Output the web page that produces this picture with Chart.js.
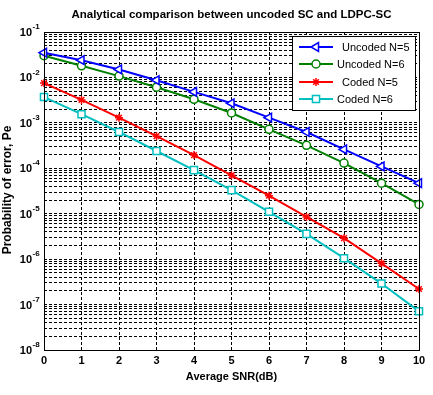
<!DOCTYPE html>
<html>
<head>
<meta charset="utf-8">
<script src="https://cdn.jsdelivr.net/npm/chart.js@4.4.0/dist/chart.umd.min.js"></script>
<style>
  html, body { margin: 0; padding: 0; background: #fff; }
</style>
</head>
<body>
<canvas id="c" width="433" height="395"></canvas>
<script>
// data
const snr = [0, 1, 2, 3, 4, 5, 6, 7, 8, 9, 10];
const uncodedN5 = [3.5e-2, 2.4e-2, 1.5e-2, 8.7e-3, 4.8e-3, 2.7e-3, 1.3e-3, 6.3e-4, 2.6e-4, 1.1e-4, 4.7e-5];
const uncodedN6 = [3.0e-2, 1.8e-2, 1.07e-2, 6.1e-3, 3.3e-3, 1.65e-3, 7.2e-4, 3.2e-4, 1.3e-4, 4.7e-5, 1.6e-5];
const codedN5 = [7.5e-3, 3.2e-3, 1.3e-3, 5.1e-4, 1.95e-4, 7.0e-5, 2.5e-5, 8.5e-6, 2.9e-6, 8.1e-7, 2.2e-7];
const codedN6 = [3.7e-3, 1.55e-3, 6.3e-4, 2.4e-4, 9.1e-5, 3.3e-5, 1.1e-5, 3.6e-6, 1.05e-6, 2.9e-7, 7.1e-8];
const seriesNames = ['Uncoded N=5', 'Uncoded N=6', 'Coded N=5', 'Coded N=6'];
const yExps = [-1, -2, -3, -4, -5, -6, -7, -8];
const xTicks = [0, 1, 2, 3, 4, 5, 6, 7, 8, 9, 10];

const titleText = 'Analytical comparison between uncoded SC and LDPC-SC';
const xTitle = 'Average SNR(dB)';
const yTitle = 'Probability of error, Pe';

function pts(ys) { return ys.map((y, i) => ({ x: snr[i], y: y })); }

const styles = [
  { color: '#0000ff', pointStyle: 'triangle', rotation: 270, radius: 5, bg: '#ffffff' },
  { color: '#008000', pointStyle: 'circle', rotation: 0, radius: 4, bg: '#ffffff' },
  { color: '#ff0000', pointStyle: 'star', rotation: 0, radius: 4, bg: '#ff0000' },
  { color: '#00bfbf', pointStyle: 'rect', rotation: 0, radius: 5, bg: '#ffffff' }
];
const allSeries = [uncodedN5, uncodedN6, codedN5, codedN6];

const datasets = allSeries.map((ys, i) => ({
  label: seriesNames[i],
  data: pts(ys),
  borderColor: styles[i].color,
  backgroundColor: styles[i].bg,
  borderWidth: 2,
  pointStyle: styles[i].pointStyle,
  pointRotation: styles[i].rotation,
  pointRadius: styles[i].radius,
  pointBorderWidth: 1.5,
  pointBackgroundColor: styles[i].bg,
  pointBorderColor: styles[i].color,
  tension: 0,
  clip: false
}));

// all minor decade ticks so every grid line is drawn
const yGridTicks = [];
for (let e = -8; e <= -1; e++) {
  for (let m = 1; m <= 9; m++) {
    const v = m * Math.pow(10, e);
    if (v <= 0.1 + 1e-12) yGridTicks.push({ value: v });
  }
}

const FONT = '"Liberation Sans", Arial, sans-serif';

const decorations = {
  id: 'decorations',
  afterDraw(chart) {
    const ctx = chart.ctx;
    const a = chart.chartArea;
    const xs = chart.scales.x, ys = chart.scales.y;
    ctx.save();
    // axes box
    ctx.strokeStyle = '#000';
    ctx.lineWidth = 1;
    ctx.setLineDash([]);
    ctx.strokeRect(Math.round(a.left) + 0.5, Math.round(a.top) + 0.5,
      Math.round(a.right - a.left), Math.round(a.bottom - a.top));

    ctx.fillStyle = '#000';
    // title
    ctx.font = 'bold 11.5px ' + FONT;
    ctx.textAlign = 'center';
    ctx.textBaseline = 'middle';
    ctx.fillText(titleText, (a.left + a.right) / 2, 15);

    // x tick labels
    ctx.font = 'bold 11px ' + FONT;
    xTicks.forEach(t => {
      ctx.fillText(String(t), xs.getPixelForValue(t), a.bottom + 11);
    });
    // x title
    ctx.fillText(xTitle, (a.left + a.right) / 2, 377);

    // y tick labels with superscript exponents
    yExps.forEach(e => {
      const py = ys.getPixelForValue(Math.pow(10, e));
      ctx.textAlign = 'right';
      ctx.font = 'bold 11px ' + FONT;
      ctx.fillText('10', 32, py + 1);
      ctx.textAlign = 'left';
      ctx.font = 'bold 8px ' + FONT;
      ctx.fillText(String(e), 32.5, py - 5);
    });

    // y title
    ctx.save();
    ctx.translate(8, 190);
    ctx.rotate(-Math.PI / 2);
    ctx.textAlign = 'center';
    ctx.font = 'bold 12px ' + FONT;
    ctx.fillText(yTitle, 0, 0);
    ctx.restore();

    // legend box
    const lx = 292, ly = 36, lw = 123, lh = 74;
    ctx.fillStyle = '#fff';
    ctx.fillRect(lx, ly, lw, lh);
    ctx.strokeStyle = '#000';
    ctx.strokeRect(lx + 0.5, ly + 0.5, lw, lh);
    const rowY = [47, 64, 82, 99];
    const textX = [342, 337, 342, 337];
    seriesNames.forEach((name, i) => {
      const s = styles[i];
      ctx.strokeStyle = s.color;
      ctx.lineWidth = 2;
      ctx.beginPath();
      ctx.moveTo(299, rowY[i]);
      ctx.lineTo(333, rowY[i]);
      ctx.stroke();
      ctx.fillStyle = s.bg;
      ctx.lineWidth = 1.5;
      Chart.helpers.drawPoint(ctx, {
        pointStyle: s.pointStyle, radius: s.radius, rotation: s.rotation, borderWidth: 1.5
      }, 316, rowY[i]);
      ctx.fillStyle = '#000';
      ctx.font = '11px ' + FONT;
      ctx.textAlign = 'left';
      ctx.textBaseline = 'middle';
      ctx.fillText(name, textX[i], rowY[i] + 1);
    });
    ctx.restore();
  }
};

new Chart(document.getElementById('c'), {
  type: 'line',
  data: { datasets: datasets },
  options: {
    responsive: false,
    devicePixelRatio: 1,
    animation: false,
    layout: { padding: { left: 44, right: 14, top: 32, bottom: 45 } },
    plugins: { legend: { display: false }, tooltip: { enabled: false }, title: { display: false } },
    scales: {
      x: {
        type: 'linear', min: 0, max: 10,
        ticks: { display: false, stepSize: 1 },
        grid: { color: '#000', lineWidth: 1, drawTicks: false },
        border: { display: false, dash: [3, 2] }
      },
      y: {
        type: 'logarithmic', min: 1e-8, max: 1e-1,
        afterBuildTicks: (scale) => { scale.ticks = yGridTicks.slice(); },
        ticks: { display: false },
        grid: { color: '#000', lineWidth: 1, drawTicks: false },
        border: { display: false, dash: [3, 2] }
      }
    }
  },
  plugins: [decorations]
});
</script>
</body>
</html>
